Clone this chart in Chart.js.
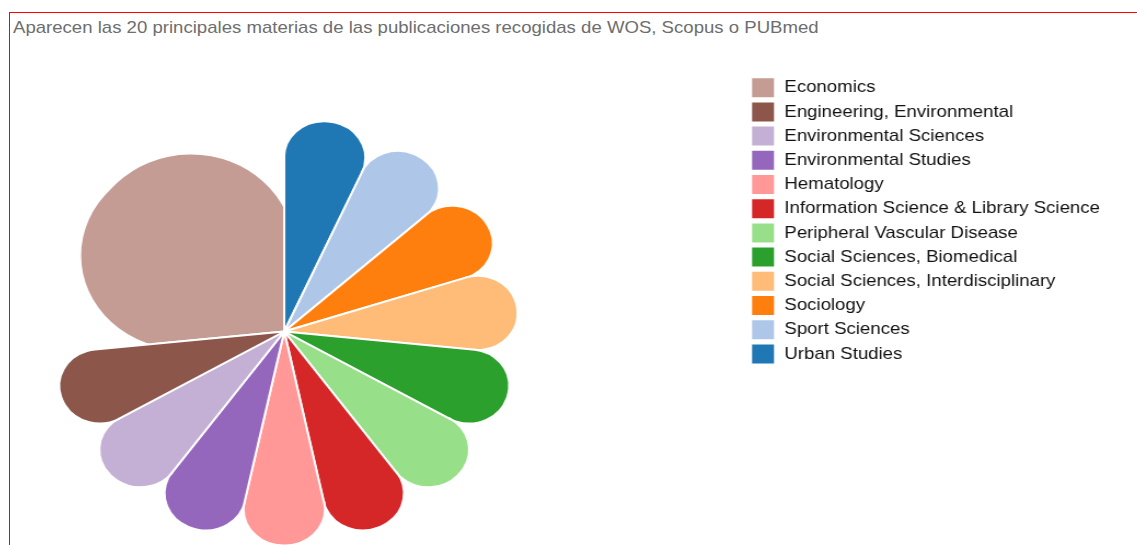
<!DOCTYPE html>
<html>
<head>
<meta charset="utf-8">
<script src="https://cdn.jsdelivr.net/npm/chart.js@4.4.0/dist/chart.umd.min.js"></script>
<style>
  body { margin: 0; overflow: hidden; background: #fff; }
  #frame { position: absolute; left: 9px; top: 12px; width: 1200px; height: 600px; border: 1px solid #ff0000; }
  #title { position: absolute; left: 13px; top: 19px; font: 17px 'Liberation Sans', Arial, sans-serif; line-height: 17px;
           color: #6e6e6e; white-space: nowrap; transform: scaleX(1.093); transform-origin: 0 0; }
  #wrap { position: absolute; left: -178.7px; top: 0; transform: scaleX(1.095); transform-origin: 0 0; }
</style>
</head>
<body>
<div id="frame"></div>
<div id="title">Aparecen las 20 principales materias de las publicaciones recogidas de WOS, Scopus o PUBmed</div>
<div id="wrap"><canvas id="pie-chart" width="1178" height="593"></canvas></div>
<script>
// materias (orden horario, empezando por Economics a la izquierda)
var materias = [
  'Economics',
  'Urban Studies',
  'Sport Sciences',
  'Sociology',
  'Social Sciences, Interdisciplinary',
  'Social Sciences, Biomedical',
  'Peripheral Vascular Disease',
  'Information Science & Library Science',
  'Hematology',
  'Environmental Studies',
  'Environmental Sciences',
  'Engineering, Environmental'
];
// numero de publicaciones por materia
var publicaciones = [4, 1, 1, 1, 1, 1, 1, 1, 1, 1, 1, 1];
// colores (paleta category20)
var colores = ['#c49c94', '#1f77b4', '#aec7e8', '#ff7f0e', '#ffbb78', '#2ca02c',
               '#98df8a', '#d62728', '#ff9896', '#9467bd', '#c5b0d5', '#8c564b'];

var ctx = document.getElementById('pie-chart').getContext('2d');

var data = {
  labels: materias,
  datasets: [{
    data: publicaciones,
    backgroundColor: colores,
    borderColor: '#ffffff',
    borderWidth: 2,
    // petalos redondeados, el grande con mas radio
    borderRadius: function (c) {
      var r = materias[c.dataIndex] === 'Economics' ? 95 : 40;
      return { outerStart: r, outerEnd: r, innerStart: 0, innerEnd: 0 };
    }
  }]
};

var options = {
  responsive: false,
  maintainAspectRatio: false,
  animation: false,
  radius: 214,
  rotation: -96,
  layout: { padding: { left: 0, right: 0, top: 74, bottom: 4 } },
  plugins: {
    legend: {
      position: 'right',
      align: 'start',
      labels: {
        boxWidth: 22,
        boxHeight: 21,
        padding: 3.2,
        color: '#111111',
        font: { family: "'Liberation Sans', Arial, sans-serif", size: 17 },
        // leyenda en orden alfabetico
        sort: function (a, b) { return a.text.localeCompare(b.text); }
      }
    },
    tooltip: { enabled: false }
  }
};

var pieChart = new Chart(ctx, {
  type: 'pie',
  data: data,
  options: options
});
</script>
</body>
</html>
